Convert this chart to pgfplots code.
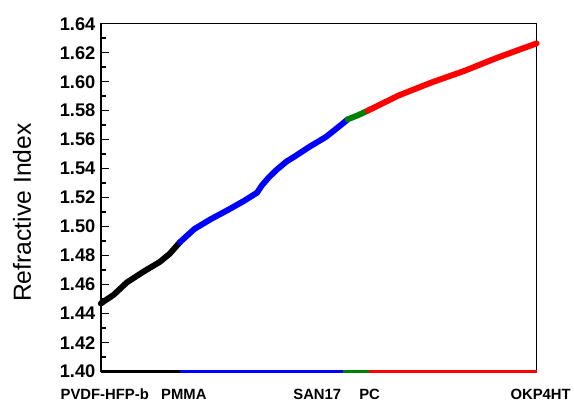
\documentclass[border=0pt]{standalone}
\usepackage{pgfplots}
\pgfplotsset{compat=1.18}
\usepackage{fontspec}
\setmainfont{Liberation Sans}

\definecolor{pgreen}{RGB}{0,128,0}

\begin{document}
\begin{tikzpicture}
\begin{axis}[
  scale only axis,
  width=441pt, height=352pt,
  xmin=0, xmax=441,
  ymin=1.40, ymax=1.64,
  clip=false,
  xtick=\empty,
  ytick={1.40,1.42,1.44,1.46,1.48,1.50,1.52,1.54,1.56,1.58,1.60,1.62,1.64},
  minor y tick num=1,
  ytick pos=left,
  tick align=inside,
  major tick length=8pt,
  minor tick length=5pt,
  every tick/.style={line width=1.5pt, black},
  axis line style={line width=1.5pt},
  /pgf/number format/assume math mode=true,
  yticklabel style={font=\bfseries\fontsize{18.5}{18.5}\selectfont,
    /pgf/number format/fixed, /pgf/number format/precision=2,
    /pgf/number format/fixed zerofill, xshift=-2pt},
  ylabel={Refractive Index},
  ylabel style={font=\fontsize{25}{25}\selectfont,
    at={(axis description cs:-0.181,0.457)}, anchor=center},
]
% refractive index of each polymer blend region
\addplot[black, line width=6pt, line join=round, line cap=round] coordinates {
  (0,1.4470) (13,1.4530) (26.3,1.4615) (43,1.4689) (59.7,1.4757)
  (69.7,1.4813) (80,1.4893)
};
\addplot[blue, line width=6pt, line join=round, line cap=round] coordinates {
  (80,1.4893) (94.7,1.4984) (111.3,1.5052) (128,1.5113) (144.7,1.5177)
  (158,1.5234) (163,1.5285) (170,1.5340) (178,1.5393) (188,1.5450) (194.7,1.5478)
  (211.3,1.5552) (228,1.5620) (244.7,1.5711) (249.7,1.5740)
};
\addplot[pgreen, line width=6pt, line join=round, line cap=round] coordinates {
  (249.7,1.5740) (260,1.5768) (270,1.5800)
};
\addplot[red, line width=6pt, line join=round, line cap=round] coordinates {
  (270,1.5800) (301.3,1.5905) (334.7,1.5995) (368,1.6075)
  (401.3,1.6166) (438,1.6257) (441,1.6264)
};
% composition ranges along the baseline
\addplot[black, line width=3pt] coordinates {(0,1.40) (80,1.40)};
\addplot[blue, line width=3pt] coordinates {(80,1.40) (245,1.40)};
\addplot[pgreen, line width=3pt] coordinates {(245,1.40) (271,1.40)};
\addplot[red, line width=3pt] coordinates {(271,1.40) (441,1.40)};
% material names
\begin{scope}[every node/.style={font=\bfseries\fontsize{15}{15}\selectfont, anchor=base, yshift=-28pt}]
\node at (axis cs:4,1.40) {PVDF-HFP-b};
\node at (axis cs:84,1.40) {PMMA};
\node at (axis cs:219,1.40) {SAN17};
\node at (axis cs:272,1.40) {PC};
\node at (axis cs:445,1.40) {OKP4HT};
\end{scope}
\end{axis}
\path ([shift={(-102pt,-31pt)}]current axis.south west) rectangle ([shift={(31pt,24pt)}]current axis.north east);
\end{tikzpicture}
\end{document}
